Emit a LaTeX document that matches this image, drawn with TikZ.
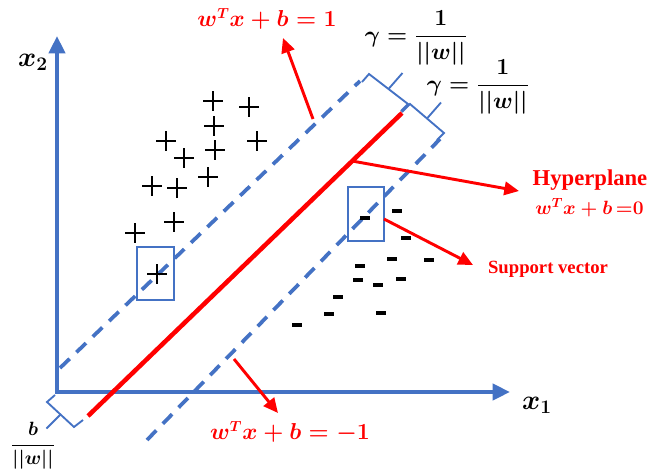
\documentclass[tikz,border=0pt]{standalone}
\usepackage{amsmath}
\usepackage{fontspec}
\newfontfamily\tnr{Liberation Serif}
\usetikzlibrary{arrows.meta,calc}
\definecolor{axblue}{RGB}{68,114,196}
\tikzset{
  axisline/.style={draw=axblue,line width=3pt,-{Triangle[length=13pt,width=12pt]}},
  hyperline/.style={draw=red,line width=3.4pt},
  marginline/.style={draw=axblue,line width=2.8pt,dash pattern=on 10pt off 7pt},
  svbox/.style={draw=axblue,line width=2.2pt,inner sep=0pt},
  bracepath/.style={draw=axblue,line width=1.4pt,line join=miter},
  redarrow/.style={draw=red,line width=2.2pt,-{Triangle[length=11pt,width=10pt]}},
  plusmark/.style={inner sep=0pt,minimum size=15pt,
    path picture={\draw[line width=1.9pt] (path picture bounding box.west) -- (path picture bounding box.east)
      (path picture bounding box.north) -- (path picture bounding box.south);}},
  minusmark/.style={fill=black,inner sep=0pt,minimum width=8pt,minimum height=2.4pt},
  redmath/.style={text=red,inner sep=0pt,font=\fontsize{16}{19}\selectfont\boldmath},
  blackmath/.style={text=black,inner sep=0pt,font=\fontsize{16}{19}\selectfont\boldmath},
  axislabel/.style={text=black,inner sep=0pt,font=\fontsize{20}{24}\selectfont\boldmath},
  redtext/.style={text=red,inner sep=0pt,font=\tnr\bfseries},
}
\begin{document}
\begin{tikzpicture}[x=0.75pt,y=-0.75pt]
\path[use as bounding box] (0,0) rectangle (651,472);

% axes
\coordinate (O) at (57,392);
\coordinate (ytip) at (57,36);
\coordinate (xtip) at (510,392);
\draw[axisline] (57,394) -- (ytip);
\draw[axisline] (55.5,392) -- (xtip);
\node[axislabel] (x2) at (33,62) {$x_2$};
\node[axislabel] (x1) at (537,405) {$x_1$};

% margin lines and hyperplane
\coordinate (u0) at (60,368);
\coordinate (u1) at (360,81);
\coordinate (h0) at (88,416);
\coordinate (h1) at (402,113);
\coordinate (l0) at (147,440);
\coordinate (l1) at (440,139);
\draw[marginline] (u0) -- (u1);
\draw[marginline] (l0) -- (l1);
\draw[hyperline] (h0) -- (h1);

% braces
\draw[bracepath] (362,82) -- (369,74) -- (408,104) -- (401,111);
\draw[bracepath] ($(369,74)!0.5!(408,104)$) -- ++(14,-16);
\draw[bracepath] (402,112) -- (410,104) -- (444,133) -- (437,140);
\draw[bracepath] ($(410,104)!0.5!(444,133)$) -- ++(14,-16);
\draw[bracepath] (55,395) -- (47,402) -- (74,427) -- (83,420);
\draw[bracepath] ($(47,402)!0.5!(74,427)$) -- ++(-14,14);

% plus samples
\foreach \n/\px/\py in {1/213/101,2/249/107,3/214/126,4/257/141,5/166/141,6/215/150,7/184/158,
  8/208/177,9/152/186,10/177/188,11/174/222,12/135/233,13/157/274}
  \node[plusmark] (p\n) at (\px,\py) {};
% minus samples
\foreach \n/\px/\py in {1/365/218,2/397/211,3/406/238,4/392/259,5/429/260,6/360/266,7/358/280,
  8/378/285,9/401/279,10/338/297,11/329/314,12/381/313,13/297/325}
  \node[minusmark] (m\n) at (\px,\py) {};

% support vector boxes
\node[svbox,minimum width=27.75pt,minimum height=39.75pt] (sv1) at (155.5,273.5) {};
\node[svbox,minimum width=27pt,minimum height=40.5pt] (sv2) at (366,214) {};

% labels
\node[redmath] (lplus) at (267,19) {$w^Tx+b=1$};
\node[redmath] (lminus) at (290,432) {$w^Tx+b=-1$};
\node[blackmath] (g1) at (416,38) {$\gamma=\dfrac{1}{||w||}$};
\node[blackmath] (g2) at (478,87) {$\gamma=\dfrac{1}{||w||}$};
\node[blackmath,font=\fontsize{14}{17}\selectfont\boldmath] (bw) at (33,446) {$\dfrac{b}{||w||}$};
\node[redtext,font=\tnr\bfseries\fontsize{17}{20}\selectfont] (hyp) at (590,180) {Hyperplane};
\node[redmath,font=\fontsize{14}{17}\selectfont\boldmath,anchor=west] (hypeq) at (535,208) {$w^Tx+b\,{=}0$};
\node[redtext,font=\tnr\bfseries\fontsize{14}{17}\selectfont] (svl) at (548,269) {Support vector};

% red arrows
\coordinate (a1s) at (313,119);
\coordinate (a1e) at (283,38);
\coordinate (a2s) at (352,161);
\coordinate (a2e) at (519,191);
\coordinate (a3s) at (384,219);
\coordinate (a3e) at (473,265);
\coordinate (a4s) at (234,359);
\coordinate (a4e) at (278,413);
\draw[redarrow] (a1s) -- (a1e);
\draw[redarrow] (a2s) -- (a2e);
\draw[redarrow] (a3s) -- (a3e);
\draw[redarrow] (a4s) -- (a4e);
\end{tikzpicture}
\end{document}
